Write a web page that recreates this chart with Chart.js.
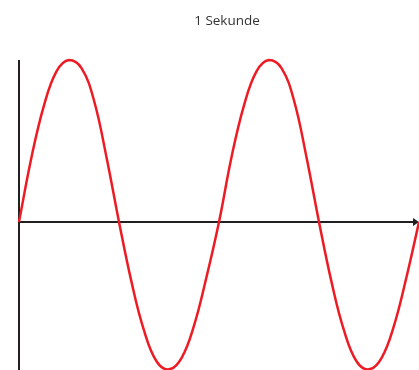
<!DOCTYPE html>
<html>
<head>
<meta charset="utf-8">
<script src="https://cdn.jsdelivr.net/npm/chart.js@4.4.1/dist/chart.umd.min.js"></script>
<style>
  html, body { margin: 0; padding: 0; background: #fff; }
  #wrap { width: 419px; height: 370px; }
</style>
</head>
<body>
<div id="wrap"><canvas id="wave"></canvas></div>
<script>
// --- DATA (time in seconds, amplitude relative to peak) ---
const titleText = '1 Sekunde';
const times = [
    0, 0.03125, 0.0625, 0.09375, 0.125, 0.15625, 0.1875, 0.21875,
    0.25, 0.28125, 0.3125, 0.34375, 0.375, 0.40625, 0.4375, 0.46875,
    0.5, 0.53125, 0.5625, 0.59375, 0.625, 0.65625, 0.6875, 0.71875,
    0.75, 0.78125, 0.8125, 0.84375, 0.875, 0.90625, 0.9375, 0.96875, 1
];
const amplitude = [
    0, 0.4, 0.72, 0.93, 1, 0.95, 0.75, 0.4,
    0, -0.37, -0.67, -0.86, -0.91, -0.84, -0.64, -0.34,
    0, 0.4, 0.72, 0.93, 1, 0.95, 0.75, 0.4,
    0, -0.37, -0.67, -0.86, -0.91, -0.84, -0.64, -0.34, 0
];

// --- AXES + TITLE PLUGIN ---
const axesPlugin = {
    id: 'axesPlugin',
    beforeDatasetsDraw(chart) {
        const { ctx, chartArea, scales } = chart;
        const x0 = scales.x.getPixelForValue(0);
        const y0 = scales.y.getPixelForValue(0);
        ctx.save();
        ctx.strokeStyle = '#231f20';
        ctx.fillStyle = '#231f20';
        ctx.lineWidth = 2;
        // vertical axis
        ctx.beginPath();
        ctx.moveTo(x0, chartArea.top);
        ctx.lineTo(x0, chartArea.bottom);
        ctx.stroke();
        // horizontal axis with arrow
        ctx.beginPath();
        ctx.moveTo(x0, y0);
        ctx.lineTo(chartArea.right - 4, y0);
        ctx.stroke();
        ctx.beginPath();
        ctx.moveTo(chartArea.right - 6, y0 - 4);
        ctx.lineTo(chartArea.right, y0);
        ctx.lineTo(chartArea.right - 6, y0 + 4);
        ctx.closePath();
        ctx.fill();
        // title
        ctx.font = '13.5px "Open Sans", sans-serif';
        ctx.fillStyle = '#333';
        ctx.textAlign = 'center';
        ctx.textBaseline = 'middle';
        ctx.fillText(titleText, 227, 21);
        ctx.restore();
    }
};

new Chart(document.getElementById('wave'), {
    type: 'line',
    data: {
        datasets: [{
            data: times.map((t, i) => ({ x: t, y: amplitude[i] })),
            borderColor: '#ed1c24',
            borderWidth: 2.5,
            pointRadius: 0,
            tension: 0.4,
            fill: false,
            clip: false
        }]
    },
    options: {
        responsive: true,
        maintainAspectRatio: false,
        animation: false,
        layout: { padding: { top: 60, left: 19, right: 0, bottom: 0 } },
        plugins: {
            legend: { display: false },
            title: { display: false },
            tooltip: { enabled: false }
        },
        scales: {
            x: { type: 'linear', min: 0, max: 1, display: false },
            y: { min: -0.914, max: 1, display: false }
        }
    },
    plugins: [axesPlugin]
});
</script>
</body>
</html>
